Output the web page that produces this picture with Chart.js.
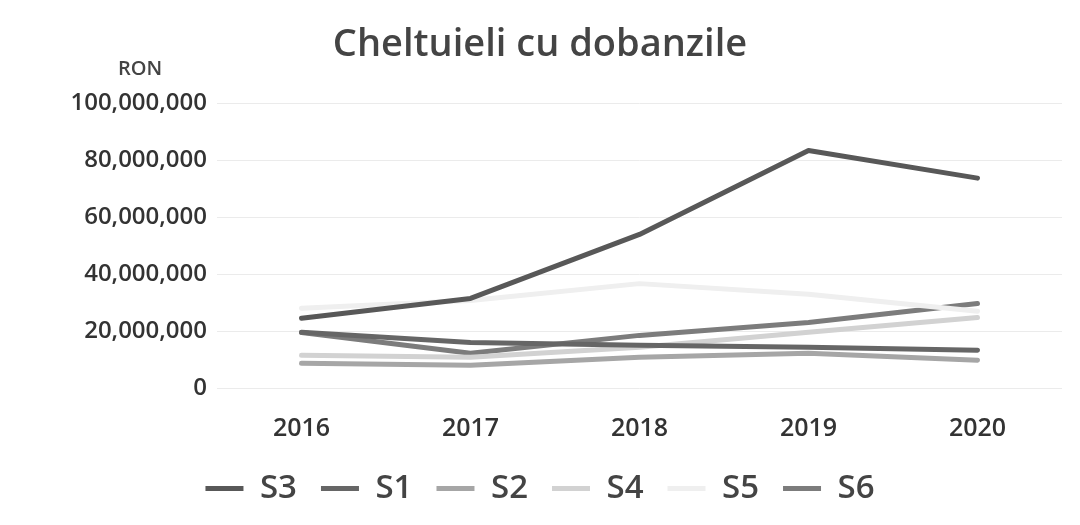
<!DOCTYPE html>
<html>
<head>
<meta charset="utf-8">
<script src="https://cdn.jsdelivr.net/npm/chart.js@4"></script>
<style>
  html, body { margin: 0; padding: 0; background: #fff; }
  #wrap { width: 1080px; height: 525px; }
</style>
</head>
<body>
<div id="wrap"><canvas id="c" width="1080" height="525"></canvas></div>
<script>
// ani pe axa X
const years = ['2016', '2017', '2018', '2019', '2020'];

// valori (RON)
const s3 = [24500000, 31500000, 54000000, 83500000, 73800000];
const s1 = [19600000, 16000000, 15000000, 14300000, 13300000];
const s2 = [8700000, 8000000, 10800000, 12200000, 9800000];
const s4 = [11500000, 10800000, 14300000, 19600000, 24800000];
const s5 = [28000000, 30800000, 36700000, 33000000, 27000000];
const s6 = [19500000, 12200000, 18500000, 23000000, 29700000];

const yTicks = [0, 20000000, 40000000, 60000000, 80000000, 100000000];

const FONT = '"Open Sans", Lato, sans-serif';

const line = (label, data, color) => ({
  label, data,
  borderColor: color, backgroundColor: color,
  borderWidth: 5, pointRadius: 0, tension: 0,
  borderCapStyle: 'round', borderJoinStyle: 'round'
});

// eticheta "RON" deasupra axei Y
const ronLabel = {
  id: 'ronLabel',
  afterDraw(chart) {
    const ctx = chart.ctx;
    const y = chart.scales.y;
    ctx.save();
    ctx.font = `600 20px ${FONT}`;
    ctx.fillStyle = '#444';
    ctx.textAlign = 'center';
    ctx.textBaseline = 'middle';
    ctx.fillText('RON', 140, y.top - 34);
    ctx.restore();
  }
};

new Chart(document.getElementById('c'), {
  type: 'line',
  data: {
    labels: years,
    datasets: [
      line('S3', s3, '#585858'),
      line('S1', s1, '#666666'),
      line('S2', s2, '#a6a6a6'),
      line('S4', s4, '#d2d2d2'),
      line('S5', s5, '#efefef'),
      line('S6', s6, '#7c7c7c')
    ]
  },
  options: {
    responsive: false,
    animation: false,
    layout: { padding: { left: 18, right: 18, top: 22, bottom: 10 } },
    plugins: {
      title: {
        display: true, text: 'Cheltuieli cu dobanzile',
        color: '#444', font: { family: FONT, size: 38, weight: '600' },
        padding: { top: 0, bottom: 36 }
      },
      legend: {
        position: 'bottom',
        maxHeight: 67,
        labels: {
          usePointStyle: true, pointStyle: 'line', pointStyleWidth: 38, boxWidth: 38,
          color: '#444', padding: 24,
          font: { family: FONT, size: 33, weight: '600' }
        }
      },
      tooltip: { enabled: false }
    },
    scales: {
      x: {
        offset: true,
        afterFit: axis => { axis.height = 60; },
        grid: { display: false },
        border: { display: false },
        ticks: { color: '#333', padding: 18, font: { family: FONT, size: 25, weight: '600' } }
      },
      y: {
        min: 0, max: 100000000,
        afterBuildTicks: axis => { axis.ticks = yTicks.map(v => ({ value: v })); },
        afterFit: axis => { axis.width = 199; },
        grid: { color: '#ebebeb', lineWidth: 1, drawTicks: false },
        border: { display: false },
        ticks: {
          color: '#333', padding: 10,
          font: { family: FONT, size: 24, weight: '600' },
          callback: v => v.toLocaleString('en-US')
        }
      }
    }
  },
  plugins: [ronLabel]
});
</script>
</body>
</html>
